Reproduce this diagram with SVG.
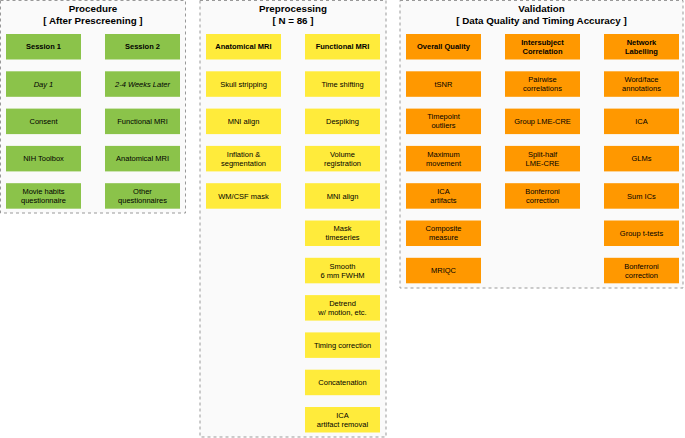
<svg xmlns="http://www.w3.org/2000/svg" width="685" height="438" viewBox="0 0 685 438">
<style>
.panel{fill:#fafafa;stroke:#999;stroke-width:1;stroke-dasharray:3,3}
.g{fill:#8bc34a}
.y{fill:#ffeb3b}
.o{fill:#ff9800}
text{font-family:"Liberation Sans",Arial,sans-serif;fill:#000;text-anchor:middle}
.t{font-size:9.8px;font-weight:bold}
.b{font-size:7.5px;dominant-baseline:central}
.h{font-weight:bold}
.i{font-style:italic}
</style>
<rect width="685" height="438" fill="#fff"/>
<g id="panel-procedure">
<rect class="panel" x="0.5" y="0.5" width="185" height="212.5"/>
<text class="t" x="93" y="11.5">Procedure</text>
<text class="t" x="93" y="23.5">[ After Prescreening ]</text>
</g>
<g id="panel-preprocessing">
<rect class="panel" x="200" y="0.5" width="186" height="436.5"/>
<text class="t" x="293" y="11.5">Preprocessing</text>
<text class="t" x="293" y="23.5">[ N = 86 ]</text>
</g>
<g id="panel-validation">
<rect class="panel" x="400" y="0.5" width="283" height="287.5"/>
<text class="t" x="541.5" y="11.5">Validation</text>
<text class="t" x="541.5" y="23.5">[ Data Quality and Timing Accuracy ]</text>
</g>
<g id="connectors"></g>
<!-- Procedure -->
<g id="session1"><rect class="g" x="6" y="34" width="75" height="25.5"/><text class="b h" x="43.5" y="46.8">Session 1</text></g>
<g id="session2"><rect class="g" x="105" y="34" width="75" height="25.5"/><text class="b h" x="142.5" y="46.8">Session 2</text></g>
<g id="day1"><rect class="g" x="6" y="71.3" width="75" height="25.5"/><text class="b i" x="43.5" y="84">Day 1</text></g>
<g id="weeks"><rect class="g" x="105" y="71.3" width="75" height="25.5"/><text class="b i" x="142.5" y="84">2-4 Weeks Later</text></g>
<g id="consent"><rect class="g" x="6" y="108.6" width="75" height="25.5"/><text class="b" x="43.5" y="121.4">Consent</text></g>
<g id="func-mri-1"><rect class="g" x="105" y="108.6" width="75" height="25.5"/><text class="b" x="142.5" y="121.4">Functional MRI</text></g>
<g id="nih"><rect class="g" x="6" y="145.9" width="75" height="25.5"/><text class="b" x="43.5" y="158.7">NIH Toolbox</text></g>
<g id="anat-mri-1"><rect class="g" x="105" y="145.9" width="75" height="25.5"/><text class="b" x="142.5" y="158.7">Anatomical MRI</text></g>
<g id="movie"><rect class="g" x="6" y="183.2" width="75" height="25.5"/><text class="b" x="43.5" y="191.5">Movie habits</text><text class="b" x="43.5" y="200.5">questionnaire</text></g>
<g id="other"><rect class="g" x="105" y="183.2" width="75" height="25.5"/><text class="b" x="142.5" y="191.5">Other</text><text class="b" x="142.5" y="200.5">questionnaires</text></g>
<!-- Preprocessing -->
<g id="anat-mri"><rect class="y" x="206" y="34" width="75" height="25.5"/><text class="b h" x="243.5" y="46.8">Anatomical MRI</text></g>
<g id="func-mri"><rect class="y" x="305" y="34" width="75" height="25.5"/><text class="b h" x="342.5" y="46.8">Functional MRI</text></g>
<g id="skull"><rect class="y" x="206" y="71.3" width="75" height="25.5"/><text class="b" x="243.5" y="84">Skull stripping</text></g>
<g id="timeshift"><rect class="y" x="305" y="71.3" width="75" height="25.5"/><text class="b" x="342.5" y="84">Time shifting</text></g>
<g id="mni-a"><rect class="y" x="206" y="108.6" width="75" height="25.5"/><text class="b" x="243.5" y="121.4">MNI align</text></g>
<g id="despike"><rect class="y" x="305" y="108.6" width="75" height="25.5"/><text class="b" x="342.5" y="121.4">Despiking</text></g>
<g id="inflation"><rect class="y" x="206" y="145.9" width="75" height="25.5"/><text class="b" x="243.5" y="154.2">Inflation &amp;</text><text class="b" x="243.5" y="163.2">segmentation</text></g>
<g id="volreg"><rect class="y" x="305" y="145.9" width="75" height="25.5"/><text class="b" x="342.5" y="154.2">Volume</text><text class="b" x="342.5" y="163.2">registration</text></g>
<g id="wmcsf"><rect class="y" x="206" y="183.2" width="75" height="25.5"/><text class="b" x="243.5" y="196">WM/CSF mask</text></g>
<g id="mni-f"><rect class="y" x="305" y="183.2" width="75" height="25.5"/><text class="b" x="342.5" y="196">MNI align</text></g>
<g id="mask"><rect class="y" x="305" y="220.5" width="75" height="25.5"/><text class="b" x="342.5" y="228.8">Mask</text><text class="b" x="342.5" y="237.8">timeseries</text></g>
<g id="smooth"><rect class="y" x="305" y="257.8" width="75" height="25.5"/><text class="b" x="342.5" y="266.1">Smooth</text><text class="b" x="342.5" y="275.1">6 mm FWHM</text></g>
<g id="detrend"><rect class="y" x="305" y="295.1" width="75" height="25.5"/><text class="b" x="342.5" y="303.4">Detrend</text><text class="b" x="342.5" y="312.4">w/ motion, etc.</text></g>
<g id="timing"><rect class="y" x="305" y="332.4" width="75" height="25.5"/><text class="b" x="342.5" y="345.2">Timing correction</text></g>
<g id="concat"><rect class="y" x="305" y="369.7" width="75" height="25.5"/><text class="b" x="342.5" y="382.5">Concatenation</text></g>
<g id="ica-removal"><rect class="y" x="305" y="407" width="75" height="25.5"/><text class="b" x="342.5" y="415.3">ICA</text><text class="b" x="342.5" y="424.3">artifact removal</text></g>
<!-- Validation -->
<g id="overall"><rect class="o" x="406" y="34" width="75" height="25.5"/><text class="b h" x="443.5" y="46.8">Overall Quality</text></g>
<g id="isc"><rect class="o" x="505" y="34" width="75" height="25.5"/><text class="b h" x="542.5" y="42.3">Intersubject</text><text class="b h" x="542.5" y="51.3">Correlation</text></g>
<g id="network"><rect class="o" x="604" y="34" width="75" height="25.5"/><text class="b h" x="641.5" y="42.3">Network</text><text class="b h" x="641.5" y="51.3">Labelling</text></g>
<g id="tsnr"><rect class="o" x="406" y="71.3" width="75" height="25.5"/><text class="b" x="443.5" y="84">tSNR</text></g>
<g id="pairwise"><rect class="o" x="505" y="71.3" width="75" height="25.5"/><text class="b" x="542.5" y="79.6">Pairwise</text><text class="b" x="542.5" y="88.6">correlations</text></g>
<g id="wordface"><rect class="o" x="604" y="71.3" width="75" height="25.5"/><text class="b" x="641.5" y="79.6">Word/face</text><text class="b" x="641.5" y="88.6">annotations</text></g>
<g id="outliers"><rect class="o" x="406" y="108.6" width="75" height="25.5"/><text class="b" x="443.5" y="116.9">Timepoint</text><text class="b" x="443.5" y="125.9">outliers</text></g>
<g id="group-lme"><rect class="o" x="505" y="108.6" width="75" height="25.5"/><text class="b" x="542.5" y="121.4">Group LME-CRE</text></g>
<g id="ica"><rect class="o" x="604" y="108.6" width="75" height="25.5"/><text class="b" x="641.5" y="121.4">ICA</text></g>
<g id="maxmove"><rect class="o" x="406" y="145.9" width="75" height="25.5"/><text class="b" x="443.5" y="154.2">Maximum</text><text class="b" x="443.5" y="163.2">movement</text></g>
<g id="splithalf"><rect class="o" x="505" y="145.9" width="75" height="25.5"/><text class="b" x="542.5" y="154.2">Split-half</text><text class="b" x="542.5" y="163.2">LME-CRE</text></g>
<g id="glms"><rect class="o" x="604" y="145.9" width="75" height="25.5"/><text class="b" x="641.5" y="158.7">GLMs</text></g>
<g id="ica-artifacts"><rect class="o" x="406" y="183.2" width="75" height="25.5"/><text class="b" x="443.5" y="191.5">ICA</text><text class="b" x="443.5" y="200.5">artifacts</text></g>
<g id="bonf-isc"><rect class="o" x="505" y="183.2" width="75" height="25.5"/><text class="b" x="542.5" y="191.5">Bonferroni</text><text class="b" x="542.5" y="200.5">correction</text></g>
<g id="sumics"><rect class="o" x="604" y="183.2" width="75" height="25.5"/><text class="b" x="641.5" y="196">Sum ICs</text></g>
<g id="composite"><rect class="o" x="406" y="220.5" width="75" height="25.5"/><text class="b" x="443.5" y="228.8">Composite</text><text class="b" x="443.5" y="237.8">measure</text></g>
<g id="ttests"><rect class="o" x="604" y="220.5" width="75" height="25.5"/><text class="b" x="641.5" y="233.3">Group t-tests</text></g>
<g id="mriqc"><rect class="o" x="406" y="257.8" width="75" height="25.5"/><text class="b" x="443.5" y="270.6">MRIQC</text></g>
<g id="bonf-net"><rect class="o" x="604" y="257.8" width="75" height="25.5"/><text class="b" x="641.5" y="266.1">Bonferroni</text><text class="b" x="641.5" y="275.1">correction</text></g>
</svg>
